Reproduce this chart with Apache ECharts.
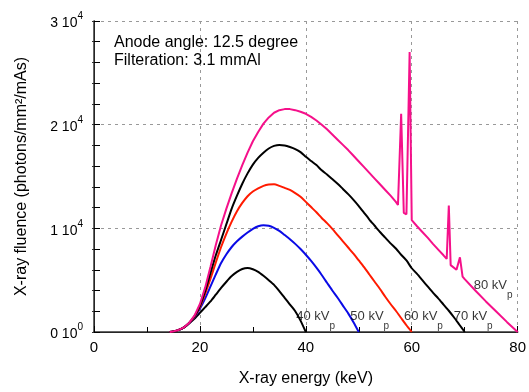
<!DOCTYPE html>
<html>
<head>
<meta charset="utf-8">
<script src="https://cdn.jsdelivr.net/npm/echarts@6/dist/echarts.min.js"></script>
<style>
  html, body { margin: 0; padding: 0; background: #fff; }
  #main { width: 529px; height: 392px; }
</style>
</head>
<body>
<div id="main"></div>
<script>
// spectra: [energy keV, fluence photons/mm2/mAs]
const kv40 = [[14.3,0],[15,60],[16,200],[17,450],[18,850],[19,1300],[20,1850],[21,2400],[22,2950],[23,3600],[24,4250],[25,4850],[26,5400],[27,5800],[28,6080],[29,6170],[30,6050],[31,5800],[32,5420],[33,5000],[34,4550],[35,3950],[36,3300],[37,2650],[38,2000],[39,1100],[40,0]]
const kv50 = [[14.3,0],[15,60],[16,200],[17,450],[18,870],[19,1450],[20,2250],[21,3250],[22,4400],[23,5550],[24,6650],[25,7500],[26,8200],[27,8750],[28,9200],[29,9600],[30,9950],[31,10200],[32,10300],[33,10250],[34,10050],[35,9750],[36,9350],[37,8950],[38,8500],[39,8000],[40,7450],[41,6850],[42,6200],[43,5500],[44,4750],[45,4000],[46,3300],[47,2550],[48,1800],[49,950],[50,0]]
const kv60 = [[14.3,0],[15,60],[16,200],[17,450],[18,880],[19,1500],[20,2400],[21,3700],[22,5150],[23,6700],[24,8200],[25,9500],[26,10650],[27,11650],[28,12450],[29,13100],[30,13550],[31,13850],[32,14100],[33,14230],[34,14250],[35,14100],[36,13900],[37,13700],[38,13400],[39,13050],[40,12550],[41,12050],[42,11550],[43,11000],[44,10500],[45,9950],[46,9350],[47,8750],[48,8150],[49,7550],[50,6900],[51,6250],[52,5550],[53,4850],[54,4150],[55,3400],[56,2700],[57,2050],[58,1350],[59,650],[60,0]]
const kv70 = [[14.3,0],[15,60],[16,200],[17,450],[18,890],[19,1550],[20,2500],[21,3950],[22,5700],[23,7400],[24,8900],[25,10400],[26,11900],[27,13150],[28,14300],[29,15300],[30,16150],[31,16800],[32,17300],[33,17700],[34,17950],[35,18050],[36,18000],[37,17850],[38,17650],[39,17350],[40,16900],[41,16500],[42,16100],[43,15600],[44,15200],[45,14750],[46,14300],[47,13800],[48,13300],[49,12750],[50,12150],[51,11500],[52,10850],[53,10250],[54,9650],[55,9100],[56,8550],[57,8050],[58,7450],[59,6900],[60,6150],[61,5600],[62,5000],[63,4400],[64,3800],[65,3250],[66,2650],[67,2050],[68,1400],[69,700],[70,0]]
const kv80 = [[14.3,0],[15,60],[16,200],[17,450],[18,900],[19,1600],[20,2700],[21,4300],[22,6300],[23,8400],[24,10300],[25,11900],[26,13400],[27,14800],[28,16100],[29,17300],[30,18400],[31,19300],[32,20100],[33,20700],[34,21150],[35,21400],[36,21500],[37,21500],[38,21400],[39,21250],[40,21050],[41,20750],[42,20400],[43,20000],[44,19550],[45,19050],[46,18550],[47,18050],[48,17550],[49,17000],[50,16450],[51,15900],[52,15350],[53,14800],[54,14250],[55,13700],[56,13150],[57,12550],[57.4,12250],[58.0,21050],[58.5,11500],[59.0,11350],[59.6,27000],[60.0,10800],[61,10200],[62,9650],[63,9100],[64,8500],[65,7950],[66,7400],[66.6,7050],[67.0,12200],[67.35,6450],[68.45,6000],[69.1,7200],[69.6,5350],[70,5100],[72,4000],[74,2950],[76,1950],[78,950],[80,0]]

const kvpNames = ['40 kV', '50 kV', '60 kV', '70 kV', '80 kV']
const kvpLabelAt = [[38.2,1085],[48.4,1085],[58.55,1085],[67.95,1085],[71.7,4060]]

const font = 'Liberation Sans, Arial, sans-serif'

let chart = echarts.init(document.getElementById('main'))

function curve(name, data, color) {
    return {
        name,
        type: 'line',
        data,
        xAxisIndex: 0,
        yAxisIndex: 0,
        showSymbol: false,
        smooth: name == '80 kVp' ? false : 0.2,
        lineStyle: { color, width: 2 },
        itemStyle: { color },
        z: 3
    }
}

const option = {
    animation: false,
    backgroundColor: '#fff',
    textStyle: { fontFamily: font },
    title: {
        text: 'Anode angle: 12.5 degree\nFilteration: 3.1 mmAl',
        left: 114,
        top: 34,
        padding: 0,
        textStyle: { fontFamily: font, fontSize: 16, fontWeight: 'normal', color: '#000', lineHeight: 17.5 }
    },
    grid: { left: 94, right: 11, top: 21, bottom: 59 },
    xAxis: [
        {
            type: 'value', min: 0, max: 80, interval: 20, position: 'bottom',
            name: 'X-ray energy (keV)', nameLocation: 'middle', nameGap: 39,
            nameTextStyle: { fontFamily: font, fontSize: 16, color: '#000' },
            axisLine: { lineStyle: { color: '#000', width: 1 } },
            axisTick: { inside: true, length: 6, lineStyle: { color: '#000' } },
            minorTick: { show: true, splitNumber: 2, length: 5, lineStyle: { color: '#000' } },
            axisLabel: { fontFamily: font, fontSize: 15, color: '#000', margin: 8 },
            splitLine: { show: true, lineStyle: { color: '#999', type: [3, 4], width: 1 } }
        },
        {
            type: 'value', min: 0, max: 80, position: 'top',
            axisLine: { show: true, lineStyle: { color: '#333', width: 1.5 } },
            axisTick: { show: false }, axisLabel: { show: false }, splitLine: { show: false }
        }
    ],
    yAxis: [
        {
            type: 'value', min: 0, max: 30000, interval: 10000, position: 'left',
            name: 'X-ray fluence (photons/mm²/mAs)', nameLocation: 'middle', nameGap: 64,
            nameTextStyle: { fontFamily: font, fontSize: 16, color: '#000' },
            axisLine: { show: true, lineStyle: { color: '#000', width: 1 } },
            axisTick: { show: true, inside: true, length: 6, lineStyle: { color: '#000' } },
            minorTick: { show: true, splitNumber: 5, length: 6, lineStyle: { color: '#000' } },
            axisLabel: {
                margin: 11,
                formatter: function (v) {
                    if (v === 0) return '{a|0 10}{s|0}'
                    return '{a|' + (v / 10000) + ' 10}{s|4}'
                },
                rich: {
                    a: { fontFamily: font, fontSize: 14, color: '#000', lineHeight: 19, verticalAlign: 'bottom' },
                    s: { fontFamily: font, fontSize: 10, color: '#000', lineHeight: 10, verticalAlign: 'top' }
                }
            },
            splitLine: { show: true, lineStyle: { color: '#999', type: [3, 4], width: 1 } }
        },
        {
            type: 'value', min: 0, max: 30000, interval: 10000, position: 'right',
            axisLine: { show: true, lineStyle: { color: '#333', width: 1.5 } },
            axisTick: { show: true, inside: true, length: 2, lineStyle: { color: '#333' } },
            minorTick: { show: true, splitNumber: 5, length: 2, lineStyle: { color: '#333' } },
            axisLabel: { show: false }, splitLine: { show: false }
        }
    ],
    series: [
        curve('40 kVp', kv40, '#000000'),
        curve('50 kVp', kv50, '#0a0ae6'),
        curve('60 kVp', kv60, '#ff1a00'),
        curve('70 kVp', kv70, '#000000'),
        curve('80 kVp', kv80, '#f5108a'),
        {
            name: 'labels',
            type: 'scatter',
            xAxisIndex: 0,
            yAxisIndex: 0,
            symbolSize: 0,
            silent: true,
            z: 4,
            data: kvpLabelAt.map((p, i) => ({ value: p, name: kvpNames[i] })),
            label: {
                show: true,
                position: 'right',
                distance: 0,
                formatter: p => '{a|' + p.name + '}{s|p}',
                rich: {
                    a: { fontFamily: font, fontSize: 13, color: '#000', lineHeight: 13, verticalAlign: 'top' },
                    s: { fontFamily: font, fontSize: 10, color: '#000', lineHeight: 21, verticalAlign: 'bottom' }
                }
            }
        }
    ]
}

chart.setOption(option)
</script>
</body>
</html>
